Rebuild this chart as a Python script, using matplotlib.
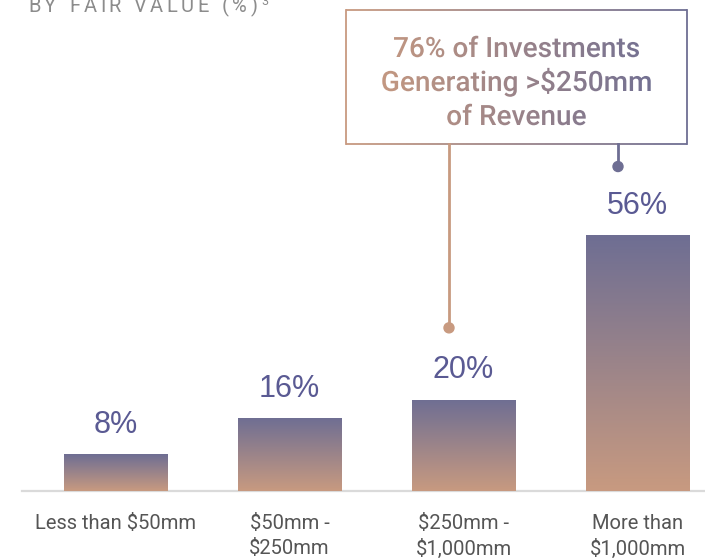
import numpy as np
import matplotlib.pyplot as plt
from matplotlib.colors import LinearSegmentedColormap
from matplotlib.patches import PathPatch, Circle
from matplotlib.textpath import TextPath
from matplotlib.font_manager import FontProperties
from matplotlib.transforms import Affine2D
from matplotlib.collections import LineCollection

categories = ['Less than $50mm', '$50mm -\n$250mm', '$250mm -\n$1,000mm', 'More than\n$1,000mm']
values = [8, 16, 20, 56]
value_labels = ['8%', '16%', '20%', '56%']
title = 'BY FAIR VALUE (%)'
title_sup = '3'
callout_lines = ['76% of Investments', 'Generating >$250mm', 'of Revenue']

TAN = '#c89a80'
PURPLE = '#6e6e93'
cmap = LinearSegmentedColormap.from_list('tanpurple', [TAN, PURPLE])

W, H = 705, 558
fig = plt.figure(figsize=(W / 100, H / 100), dpi=100)

# data axes filling the figure: 174 px per category, 4.57 px per percent
ax = fig.add_axes([0, 0, 1, 1])
xlim = (-115.5 / 174, (W - 115.5) / 174)
ylim = (-67 / 4.57, (H - 67) / 4.57)
ax.axis('off')

x = np.arange(len(values))
bars = ax.bar(x, values, width=0.592, color='none', edgecolor='none')
grad = np.linspace(0, 1, 256).reshape(-1, 1)
for b in bars:
    im = ax.imshow(grad, extent=[b.get_x(), b.get_x() + b.get_width(), 0, b.get_height()],
                   origin='lower', cmap=cmap, aspect='auto', interpolation='bilinear', zorder=2)
    im.set_clip_path(b)
ax.set_xlim(*xlim)
ax.set_ylim(*ylim)
ax.axhline(0, xmin=22 / W, xmax=1, color='#dadada', lw=1.6, zorder=1)

for i, (v, lab) in enumerate(zip(values, value_labels)):
    ax.text(i, v + 6.4, lab, ha='center', va='center', fontsize=22, color='#5a5a93',
            family='Liberation Sans')
for i, cat in enumerate(categories):
    ax.text(i, -5.1, cat, ha='center', va='top', fontsize=14.5, color='#555555',
            family='Roboto', linespacing=1.35)

# overlay axes in pixel units (y up) for the callout and title
ax2 = fig.add_axes([0, 0, 1, 1], facecolor='none')
ax2.axis('off')

# callout box with horizontal gradient border
bx0, bx1, by0, by1 = 346, 687, H - 144, H - 10
xs = np.linspace(bx0, bx1, 200)
segs, cols = [], []
for yy in (by0, by1):
    for a, c in zip(xs[:-1], xs[1:]):
        segs.append([(a, yy), (c, yy)])
        cols.append(cmap((a - bx0) / (bx1 - bx0)))
ax2.add_collection(LineCollection(segs, colors=cols, linewidths=1.3))
ax2.plot([bx0, bx0], [by0, by1], color=TAN, lw=1.3)
ax2.plot([bx1, bx1], [by0, by1], color=PURPLE, lw=1.3)

# gradient text via text path clipping
fp = FontProperties(family='Roboto', weight='medium')
size = 28
cx = (bx0 + bx1) / 2
gradx = np.linspace(0, 1, 256).reshape(1, -1)
for k, line in enumerate(callout_lines):
    tp = TextPath((0, 0), line, size=size, prop=fp)
    ext = tp.get_extents()
    base_y = H - (57 + 34 * k)
    tr = Affine2D().translate(cx - (ext.x0 + ext.x1) / 2, base_y)
    patch = PathPatch(tr.transform_path(tp), facecolor='none', edgecolor='none')
    ax2.add_patch(patch)
    im = ax2.imshow(gradx, extent=[bx0 + 20, bx1 - 20, base_y - 10, base_y + 30], cmap=cmap,
                    aspect='auto', interpolation='bilinear', origin='lower')
    im.set_clip_path(patch)

# connectors from box to dots above bars
to_px = ax.transData
left_dot = to_px.transform((2, values[2] + 15.7))
right_dot = to_px.transform((3, values[3] + 15))
for px_x, dot, col in ((449, left_dot, TAN), (618, right_dot, PURPLE)):
    ax2.plot([px_x, px_x], [by0, dot[1]], color=col, lw=2)
    ax2.add_patch(Circle((px_x, dot[1]), 5, color=col))

# letter-spaced title, partly cut off at the top
fig.canvas.draw()
renderer = fig.canvas.get_renderer()
tx = 28
for ch in title:
    if ch == ' ':
        tx += 9.5
        continue
    t = ax2.text(tx, H - 12.5, ch, fontsize=14.5, color='#8c8c8c', family='Roboto', va='baseline')
    tx += t.get_window_extent(renderer).width + 3.4
ax2.text(tx + 1, H - 5, title_sup, fontsize=9, color='#8c8c8c', family='Roboto', va='baseline')

ax2.set_xlim(0, W)
ax2.set_ylim(0, H)

fig.savefig('out.png', dpi=100)
